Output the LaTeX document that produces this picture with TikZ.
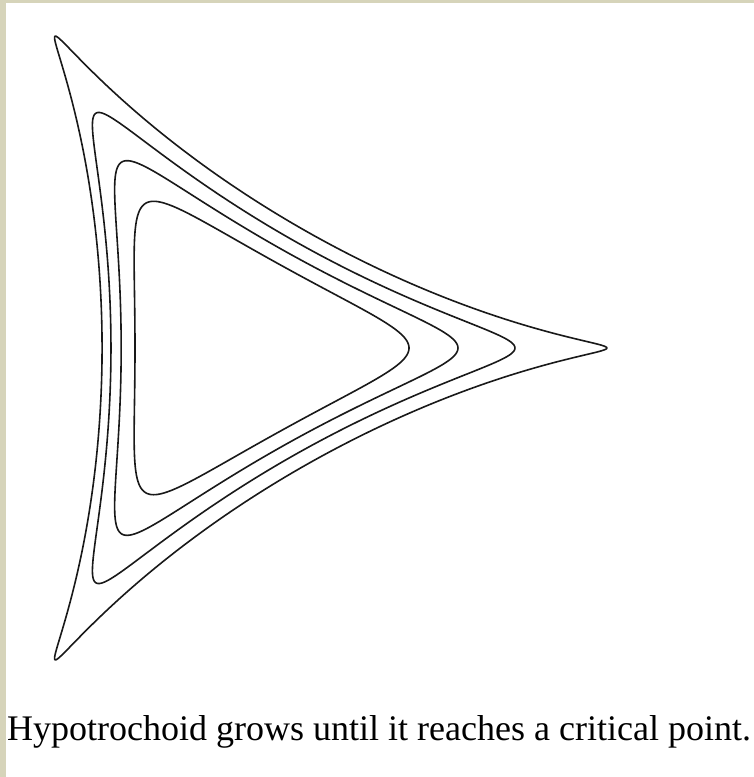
\documentclass[tikz,border=0pt]{standalone}
\usepackage{fontspec}
\setmainfont{Liberation Serif}
\definecolor{bordercol}{RGB}{214,212,186}
\definecolor{inkcol}{RGB}{25,25,25}
\tikzset{
  curve/.style={line width=1.6pt, draw=inkcol, line join=round},
  caption/.style={anchor=base west, inner sep=0pt, text=black, font=\fontsize{36}{40}\selectfont}
}
% #1 centre x, #2 x scale, #3 y scale, #4 pen ratio d/r
\newcommand\hypotro[4]{%
  \draw[curve] plot[domain=0:360, samples=361, variable=\t]
    ({#1+#2*(2*cos(\t)+#4*cos(2*\t))}, {348-#3*(2*sin(\t)-#4*sin(2*\t))}) -- cycle;}
\begin{document}
\begin{tikzpicture}[x=1pt, y=-1pt]
  \useasboundingbox (0,0) rectangle (754,777);
  \fill[white] (0,0) rectangle (754,777);
  \fill[bordercol] (0,0) rectangle (6,777);
  \fill[bordercol] (0,0) rectangle (754,3);
  % outer (critical) curve and three smaller hypotrochoids
  \hypotro{239}{126.2}{123.5}{0.915}
  \hypotro{235.7}{101}{98.1}{0.765}
  \hypotro{234}{84.2}{80.8}{0.660}
  \hypotro{233.7}{68.5}{65.4}{0.559}
  \node[caption] (cap) at (7,740) {Hypotrochoid grows until it reaches a critical point.};
\end{tikzpicture}
\end{document}
